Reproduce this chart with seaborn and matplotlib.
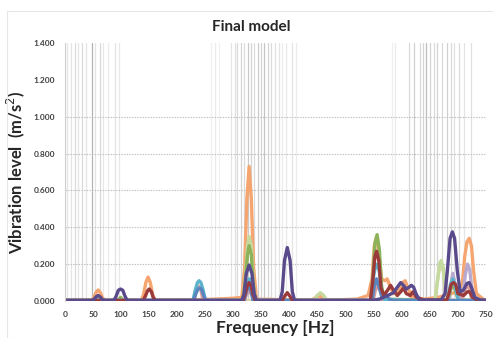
import matplotlib
matplotlib.use("Agg")
import matplotlib.pyplot as plt
import seaborn as sns
import pandas as pd
from matplotlib.patches import Rectangle

# ---------------- data ----------------
title = "Final model"
x_label = "Frequency [Hz]"
y_label = "Vibration level  (m/s$^2$)"
x_ticks = [0, 50, 100, 150, 200, 250, 300, 350, 400, 450, 500, 550, 600, 650, 700, 750]
y_ticks = [0.0, 0.2, 0.4, 0.6, 0.8, 1.0, 1.2, 1.4]
y_grid = [0.2, 0.4, 0.6, 0.8, 1.0]

# reference frequency lines (Hz) and their gray shade
ref_hz = [4, 10, 17, 23, 31, 38, 48, 54, 63, 68, 77, 89, 96,
          260, 268, 275, 295, 302, 307, 314, 319, 326, 332, 337, 344, 349, 354,
          361, 367, 374, 381, 386, 393, 405, 411,
          582, 588, 612, 621, 632, 637, 644, 651, 658, 663, 672, 681, 688, 693,
          702, 711, 723]
ref_shade = ["#e4e4e4", "#e4e4e4", "#dadada", "#e4e4e4", "#dadada", "#e4e4e4", "#b4b4b4",
             "#e4e4e4", "#dadada", "#e8e8e8", "#ececec", "#e4e4e4", "#e8e8e8",
             "#f0f0f0", "#ececec", "#f0f0f0", "#e4e4e4", "#e0e0e0", "#dadada", "#d4d4d4",
             "#dadada", "#c8c8c8", "#d4d4d4", "#dadada", "#cccccc", "#d4d4d4", "#c4c4c4",
             "#d4d4d4", "#dadada", "#e0e0e0", "#e4e4e4", "#ececec", "#e8e8e8", "#e4e4e4",
             "#ececec",
             "#f0f0f0", "#ececec", "#dadada", "#d0d0d0", "#dadada", "#d4d4d4", "#bcbcbc",
             "#d4d4d4", "#dadada", "#d4d4d4", "#dadada", "#d0d0d0", "#dadada", "#e0e0e0",
             "#dadada", "#e4e4e4", "#e0e0e0"]

orange = [(0, .005), (46, .005), (51, .015), (55, .045), (59, .06), (63, .045), (67, .015), (72, .005),
          (136, .005), (140, .035), (144, .1), (148, .13), (152, .1), (156, .035), (160, .005),
          (250, .008), (300, .015), (315, .02), (320, .18), (324, .55), (328, .73), (332, .55),
          (336, .18), (341, .01), (440, .005), (447, .02), (453, .03), (460, .01), (470, .005),
          (520, .01), (540, .03), (547, .12), (551, .3), (555, .35), (559, .26), (564, .12),
          (570, .11), (574, .12), (579, .08), (585, .04), (596, .06), (601, .1), (606, .11),
          (611, .07), (618, .02), (640, .01), (665, .02), (700, .05), (708, .1), (712, .24),
          (716, .32), (720, .34), (724, .3), (728, .16), (733, .04), (745, .01), (750, .005)]

khaki = [(0, .003), (659, .003), (663, .1), (667, .18), (670, .2), (674, .16), (678, .04),
         (684, .003), (750, .003)]

light_green = [(0, .003), (51, .003), (55, .015), (59, .02), (63, .015), (67, .003), (317, .003),
               (321, .12), (325, .3), (328, .35), (332, .3), (335, .12), (339, .003),
               (444, .003), (449, .03), (455, .045), (461, .03), (466, .003),
               (659, .003), (663, .09), (667, .2), (670, .22), (674, .18), (678, .06),
               (683, .02), (687, .07), (691, .12), (695, .07), (701, .005), (750, .003)]

green = [(0, .003), (94, .003), (99, .02), (104, .003),
         (317, .003), (321, .1), (325, .25), (328, .3), (332, .25), (335, .1), (339, .003),
         (545, .003), (549, .15), (552, .31), (556, .36), (560, .28), (564, .08), (569, .01),
         (683, .003), (687, .06), (691, .1), (695, .06), (701, .003), (750, .003)]

lavender = [(0, .003), (319, .003), (323, .035), (328, .05), (333, .035), (337, .003),
            (683, .003), (687, .09), (691, .15), (695, .09), (700, .02), (709, .03),
            (713, .14), (717, .2), (721, .17), (725, .06), (731, .003), (750, .003)]

pink = [(0, .003), (230, .003), (234, .05), (238, .08), (242, .06), (246, .003),
        (320, .003), (324, .045), (328, .06), (332, .045), (336, .003),
        (549, .003), (553, .06), (557, .08), (561, .06), (566, .003),
        (707, .003), (712, .06), (716, .08), (720, .07), (725, .003), (750, .003)]

light_blue = [(0, .003), (228, .003), (232, .06), (236, .1), (239, .11), (242, .1),
              (246, .06), (250, .003), (318, .003), (322, .07), (326, .11), (329, .12),
              (333, .09), (337, .003), (545, .003), (549, .12), (553, .19), (556, .2),
              (560, .16), (564, .04), (570, .005), (681, .003), (687, .09), (691, .12),
              (695, .08), (701, .003), (750, .003)]

blue = [(0, .003), (229, .003), (233, .04), (237, .065), (240, .07), (243, .065), (247, .03),
        (251, .003), (319, .003), (323, .05), (327, .08), (331, .06), (335, .003),
        (547, .003), (551, .08), (555, .12), (559, .08), (565, .02), (572, .03), (578, .01),
        (585, .003), (750, .003)]

dark_red = [(0, .003), (139, .003), (143, .025), (147, .055), (150, .065), (154, .05),
            (157, .02), (161, .003), (317, .003), (321, .04), (325, .085), (328, .1),
            (332, .08), (335, .035), (339, .003), (387, .003), (391, .025), (396, .045),
            (401, .025), (405, .003), (544, .003), (548, .1), (552, .24), (555, .27),
            (559, .22), (563, .07), (568, .03), (575, .06), (580, .085), (585, .06),
            (592, .03), (598, .05), (603, .07), (608, .04), (615, .03), (620, .05),
            (626, .02), (640, .005), (680, .005), (684, .04), (688, .09), (692, .1),
            (696, .09), (700, .04), (710, .03), (717, .05), (721, .05), (726, .02),
            (735, .005), (750, .003)]

purple = [(0, .003), (47, .003), (51, .006), (55, .022), (59, .03), (63, .022), (67, .006), (71, .003),
          (87, .003), (91, .025), (95, .058), (99, .065), (103, .058), (107, .025), (111, .003),
          (315, .003), (319, .04), (323, .15), (328, .195), (333, .15), (337, .04), (341, .003),
          (383, .003), (387, .05), (391, .22), (396, .29), (401, .22), (405, .05), (409, .003),
          (545, .003), (560, .01), (575, .03), (585, .045), (592, .075), (598, .1), (603, .085),
          (608, .065), (613, .075), (617, .085), (621, .075), (626, .035), (632, .005),
          (670, .005), (677, .04), (681, .16), (686, .34), (690, .375), (694, .34), (699, .16),
          (704, .05), (710, .06), (716, .095), (720, .1), (724, .075), (730, .02), (740, .005),
          (750, .003)]

series_order = ["orange", "khaki", "light_green", "green", "lavender", "pink",
                "light_blue", "blue", "dark_red", "purple"]
series_data = [orange, khaki, light_green, green, lavender, pink,
               light_blue, blue, dark_red, purple]
series_colors = {"orange": "#F5A56F", "khaki": "#D9D3A8", "light_green": "#C5DA9E",
                 "green": "#8DB35A", "lavender": "#B9A9CF", "pink": "#DE9C9A",
                 "light_blue": "#5BB3CC", "blue": "#5A86C0", "dark_red": "#9B3A3A",
                 "purple": "#5A4A8C"}

# ---------------- figure ----------------
rows = []
for name, pts in zip(series_order, series_data):
    for hz, v in pts:
        rows.append({"series": name, "hz": hz, "val": v})
df = pd.DataFrame(rows)

sns.set_style("white")
plt.rcParams["font.family"] = ["Lato", "DejaVu Sans"]

fig = plt.figure(figsize=(4.93, 3.38), dpi=100)
fig.patches.append(Rectangle((7 / 493, 0), 1, 1 - 11 / 338, transform=fig.transFigure,
                             fill=False, edgecolor="#e6e6e6", lw=0.8))
ax = fig.add_axes([65 / 493, 1 - 301 / 338, 421 / 493, (301 - 43) / 338])

for hz, c in zip(ref_hz, ref_shade):
    ax.axvline(hz, color=c, lw=0.9, zorder=0)
for yv in y_grid:
    ax.axhline(yv, color="#bdbdbd", lw=0.8, ls=(0, (1.2, 1.2)), zorder=0)

sns.lineplot(data=df, x="hz", y="val", hue="series", hue_order=series_order,
             palette=series_colors, estimator=None, sort=False, lw=2.4,
             legend=False, ax=ax)
for line in ax.get_lines():
    line.set_solid_joinstyle("round")
    line.set_solid_capstyle("round")

ax.set_xlim(0, 750)
ax.set_ylim(0, 1.4)
ax.set_xticks(x_ticks)
ax.set_xticklabels([str(t) for t in x_ticks])
ax.set_yticks(y_ticks)
ax.set_yticklabels([f"{t:.3f}" for t in y_ticks])
ax.tick_params(axis="both", length=0, labelsize=6, colors="#404040", pad=7)
for lab in ax.get_xticklabels() + ax.get_yticklabels():
    lab.set_fontweight("bold")

for s in ["top", "right", "bottom"]:
    ax.spines[s].set_visible(False)
ax.spines["left"].set_color("#d0d0d0")
ax.spines["left"].set_linewidth(0.8)

ax.set_xlabel(x_label, fontsize=12.5, fontweight="bold", color="#262626", labelpad=2)
ax.set_ylabel(y_label, fontsize=12, fontweight="bold", color="#262626", labelpad=5)
fig.text(0.51, 1 - 27 / 338, title, ha="center", va="center", fontsize=11,
         fontweight="bold", color="#262626")

fig.savefig("out.png", dpi=100)
